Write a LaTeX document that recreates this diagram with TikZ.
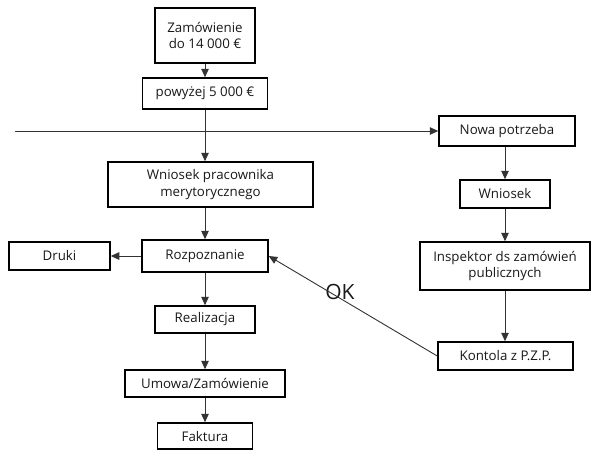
\documentclass[tikz,border=0pt]{standalone}
\usepackage{fontspec}
\setmainfont{Open Sans}
\usetikzlibrary{arrows.meta}
\begin{document}
\begin{tikzpicture}[x=1pt,y=-1pt,
 box/.style={draw=black, line width=1.5pt, inner sep=0pt, align=center,
   font=\fontsize{13.3}{16.5}\selectfont, text=black!90},
 conn/.style={draw=black!80, line width=0.9pt, -{Triangle[length=8.5pt,width=7.5pt]}}]
\fill[white] (0,0) rectangle (591,451);
\useasboundingbox (0,0) rectangle (591,451);
% left column
\node[box, minimum width=100, minimum height=55] (z1) at (205,35.5) {Zamówienie\\do 14 000 €};
\node[box, minimum width=125, minimum height=31] (z2) at (205,93.5) {powyżej 5 000 €};
\node[box, minimum width=205, minimum height=45] (wp) at (210.5,184.5) {Wniosek pracownika\\merytorycznego};
\node[box, minimum width=126, minimum height=32] (rz) at (205,256) {Rozpoznanie};
\node[box, minimum width=101, minimum height=28] (dr) at (59.5,256) {Druki};
\node[box, minimum width=100, minimum height=27] (re) at (205,319.5) {Realizacja};
\node[box, minimum width=160, minimum height=27] (um) at (205,383.5) {Umowa/Zamówienie};
\node[box, minimum width=95, minimum height=26] (fa) at (205,436) {Faktura};
% right column
\node[box, minimum width=136, minimum height=30] (np) at (507,131) {Nowa potrzeba};
\node[box, minimum width=90, minimum height=28] (wn) at (505,194) {Wniosek};
\node[box, minimum width=170, minimum height=48] (in) at (505,266) {Inspektor ds zamówień\\publicznych};
\node[box, minimum width=135, minimum height=28] (ko) at (505.5,356) {Kontola z P.Z.P.};
\node[font=\fontsize{21}{24}\selectfont, text=black!90] (ok) at (340,292) {OK};
% connectors
\coordinate (ls) at (15,131);
\draw[conn] (ls) -- (np.west);
\draw[conn] (z1.south) -- (z1.south |- z2.north);
\draw[conn] (z2.south) -- (z2.south |- wp.north);
\draw[conn] (rz.north |- wp.south) -- (rz.north);
\draw[conn] (rz.west) -- (dr.east);
\draw[conn] (rz.south) -- (re.north);
\draw[conn] (re.south) -- (um.north);
\draw[conn] (um.south) -- (fa.north);
\draw[conn] (wn.north |- np.south) -- (wn.north);
\draw[conn] (wn.south) -- (in.north);
\draw[conn] (in.south) -- (in.south |- ko.north);
\draw[conn] (ko.west) -- (rz.east);
\end{tikzpicture}
\end{document}
